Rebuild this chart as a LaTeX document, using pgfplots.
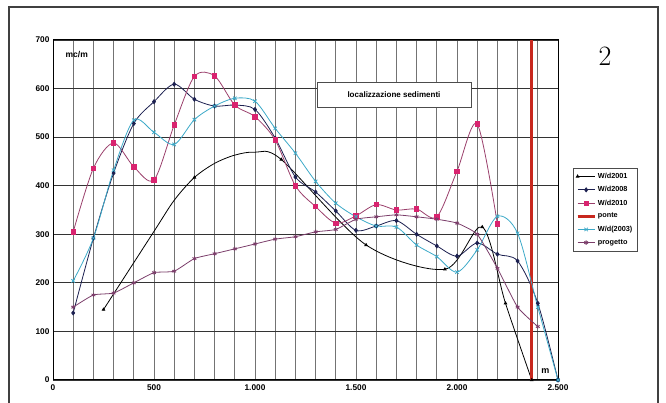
\documentclass[border=0pt]{standalone}
\usepackage{fontspec}
\usepackage{pgfplots}
\pgfplotsset{compat=1.18}
\newfontfamily\arial{Liberation Sans}

\definecolor{c2008}{HTML}{1C2050}
\definecolor{c2010l}{HTML}{9A3F6B}
\definecolor{c2010m}{HTML}{D9236F}
\definecolor{c2003}{HTML}{3CA9C8}
\definecolor{cprog}{HTML}{7B3D6A}
\definecolor{cponte}{HTML}{C8281E}

\begin{document}
\begin{tikzpicture}
\useasboundingbox (0,0) rectangle (666pt,403pt);
% frame round the whole figure (bottom edge cut off in the scan)
\draw[line width=1.3pt, black!75] (9pt,-5pt) -- (9pt,396pt) -- (658pt,396pt) -- (658pt,-5pt);
\node[font=\fontsize{28}{30}\selectfont] at (605pt,347pt) {2};

\begin{axis}[
    at={(53pt,23pt)}, anchor=south west,
    scale only axis, width=505pt, height=340pt,
    xmin=0, xmax=2500, ymin=0, ymax=700,
    xtick={0,500,1000,1500,2000,2500},
    xticklabels={0,500,1.000,1.500,2.000,2.500},
    minor x tick num=4,
    ytick={0,100,200,300,400,500,600,700},
    yticklabels={0,100,200,300,400,500,600,700},
    xmajorgrids, xminorgrids, ymajorgrids,
    major x grid style={black!55, line width=1pt},
    minor x grid style={black!55, line width=1pt},
    major y grid style={black!80, line width=0.9pt},
    tick style={draw=none},
    axis line style={black, line width=1pt},
    ticklabel style={font=\arial\bfseries\fontsize{8.3}{10}\selectfont},
    xticklabel style={yshift=-1pt},
    legend style={at={(1.03,0.624)}, anchor=north west,
        font=\arial\bfseries\fontsize{7.3}{8}\selectfont,
        draw=black!70, row sep=2.6pt, inner xsep=3pt, inner ysep=3pt},
    legend cell align=left,
    every axis plot/.append style={line width=0.8pt},
]

% W/d2001: only the surveyed points carry marks
\addplot[black, smooth, mark=triangle*, mark size=1.4pt,
    mark indices={1,4,8,9,10,11,12,13}]
coordinates {
    (250,145) (500,306) (600,370) (700,417) (800,446) (900,463)
    (1000,469) (1130,454) (1550,278) (1940,228) (2125,315) (2240,158)
    (2370,0)
};
\addlegendentry{W/d2001}

\addplot[c2008, smooth, mark=diamond*, mark size=2pt]
coordinates {
    (100,138) (200,292) (300,426) (400,528) (500,573) (600,609)
    (700,578) (800,564) (900,566) (1000,557) (1100,498) (1200,418)
    (1300,387) (1400,348) (1500,308) (1600,317) (1700,328) (1800,300)
    (1900,276) (2000,255) (2100,282) (2200,259) (2300,245) (2400,158)
    (2500,0)
};
\addlegendentry{W/d2008}

\addplot[c2010l, smooth, mark=square*, mark size=2.2pt,
    mark options={c2010m, fill=c2010m}]
coordinates {
    (100,305) (200,436) (300,488) (400,439) (500,412) (600,525)
    (700,625) (800,626) (900,566) (1000,542) (1100,494) (1200,400)
    (1300,357) (1400,323) (1500,338) (1600,361) (1700,350) (1800,352)
    (1900,336) (2000,430) (2100,527) (2200,321)
};
\addlegendentry{W/d2010}

\addplot[cponte, line width=2.5pt]
coordinates {(2370,0) (2370,700)};
\addlegendentry{ponte}

\addplot[c2003, smooth, mark=x, mark size=2.4pt]
coordinates {
    (100,204) (200,292) (300,432) (400,535) (500,510) (600,485)
    (700,536) (800,564) (900,580) (1000,574) (1100,518) (1200,467)
    (1300,409) (1400,364) (1500,336) (1600,317) (1700,315) (1800,278)
    (1900,254) (2000,222) (2100,268) (2200,337) (2300,302) (2400,150)
    (2500,0)
};
\addlegendentry{W/d(2003)}

\addplot[cprog, smooth, tension=0.3, mark=asterisk, mark size=2.2pt]
coordinates {
    (100,150) (200,175) (300,179) (400,200) (500,221) (600,224)
    (700,250) (800,260) (900,270) (1000,280) (1100,290) (1200,295)
    (1300,305) (1400,310) (1500,331) (1600,336) (1700,340) (1800,336)
    (1900,331) (2000,323) (2100,300) (2200,230) (2300,150) (2400,110)
};
\addlegendentry{progetto}

\node[anchor=west, font=\arial\bfseries\fontsize{8.5}{10}\selectfont]
    at (axis cs:45,670) {mc/m};
\node[font=\arial\bfseries\fontsize{9}{10}\selectfont]
    at (axis cs:2437,19) {m};
\node[draw=black!70, fill=white, line width=0.6pt,
    minimum width=154pt, minimum height=25pt,
    font=\arial\bfseries\fontsize{8}{10}\selectfont]
    at (axis cs:1688,587) {localizzazione sedimenti};
\end{axis}
\end{tikzpicture}
\end{document}
